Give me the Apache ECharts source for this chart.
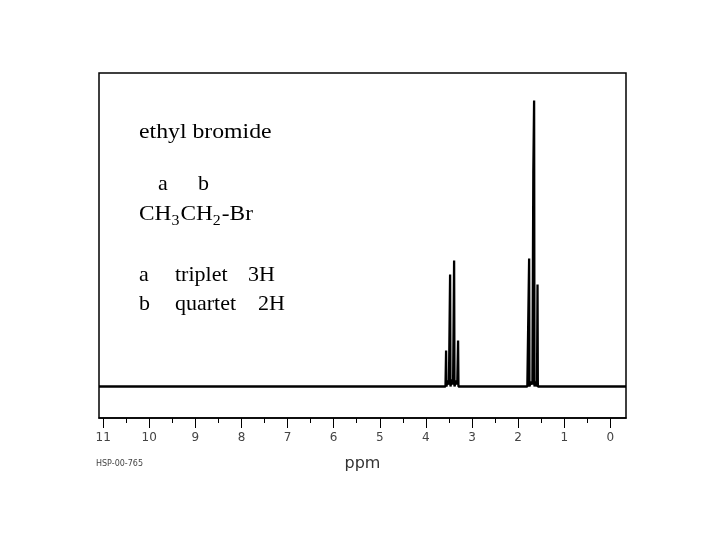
<!DOCTYPE html>
<html>
<head>
<meta charset="utf-8">
<script src="https://cdn.jsdelivr.net/npm/echarts@6/dist/echarts.min.js"></script>
<style>html,body{margin:0;padding:0;background:#fff;}#c{width:720px;height:540px;}</style>
</head>
<body>
<div id="c"></div>
<script>
// Chemical shift (ppm) and intensity of the recorded spectrum trace
const shiftPpm = [11.09, 9.0, 7.0, 5.0, 3.62, 3.575, 3.570, 3.562, 3.554, 3.53, 3.50, 3.483, 3.475, 3.467, 3.45, 3.43, 3.41, 3.396, 3.388, 3.380, 3.36, 3.34, 3.32, 3.310, 3.302, 3.294, 3.27, 3.0, 2.0, 1.80, 1.772, 1.768, 1.761, 1.754, 1.72, 1.69, 1.675, 1.670, 1.653, 1.645, 1.62, 1.59, 1.586, 1.579, 1.572, 1.55, 1.0, 0.0, -0.34];
const intensity = [0, 0, 0, 0, 0, 0, 0, 36, 0, 6, 2, 0, 112, 0, 4, 7, 2, 0, 126, 0, 3, 6, 2, 0, 46, 0, 0, 0, 0, 0, 0, 0, 128, 0, 5, 2, 0, 214, 286, 0, 5, 0, 0, 102, 0, 0, 0, 0, 0];
const majorTicks = [0, 1, 2, 3, 4, 5, 6, 7, 8, 9, 10, 11];
const minorTicks = [0.5, 1.5, 2.5, 3.5, 4.5, 5.5, 6.5, 7.5, 8.5, 9.5, 10.5];
const axisTitle = 'ppm';
const sampleId = 'HSP-00-765';

const chart = echarts.init(document.getElementById('c'), null, {renderer: 'canvas'});
const serif = "'Liberation Serif','Times New Roman',serif";
function txt(x, y, s, size, sx) {
  return {type: 'text', left: x, top: y, scaleX: sx || 1, style: {text: s, font: size + 'px ' + serif, fill: '#000'}};
}
const data = shiftPpm.map((p, i) => [p, intensity[i]]);
chart.setOption({
  animation: false,
  backgroundColor: '#fff',
  grid: {left: 99, right: 94, top: 73, bottom: 122, show: true, borderColor: '#000', borderWidth: 1.5, backgroundColor: 'transparent'},
  xAxis: [{
    type: 'value', inverse: true, min: -0.34, max: 11.09,
    name: axisTitle, nameLocation: 'middle', nameGap: 38,
    nameTextStyle: {fontSize: 16, color: '#333', fontFamily: 'DejaVu Sans'},
    axisLine: {show: true, onZero: false, lineStyle: {color: '#000', width: 1.5}},
    axisTick: {show: true, inside: false, length: 10, customValues: majorTicks, lineStyle: {color: '#000', width: 1}},
    axisLabel: {show: true, customValues: majorTicks, margin: 14, fontSize: 12, color: '#444', fontFamily: 'DejaVu Sans'},
    splitLine: {show: false}
  }, {
    type: 'value', inverse: true, min: -0.34, max: 11.09, position: 'bottom',
    axisLine: {show: false, onZero: false},
    axisTick: {show: true, inside: false, length: 5, customValues: minorTicks, lineStyle: {color: '#000', width: 1}},
    axisLabel: {show: false},
    splitLine: {show: false}
  }],
  yAxis: {type: 'value', min: -31.5, max: 313.5, show: false},
  series: [{
    type: 'line', data: data, showSymbol: false, symbol: 'none',
    lineStyle: {color: '#000', width: 2.3}, clip: true
  }],
  graphic: [
    txt(139, 121, 'ethyl bromide', 22, 1.08),
    txt(158, 173, 'a', 22),
    txt(198, 173, 'b', 22),
    {type: 'text', left: 139, top: 203, scaleX: 1.06, style: {
      text: '{n|CH}{s|3}{n|CH}{s|2}{n|-Br}',
      rich: {
        n: {fontSize: 22, fontFamily: serif, color: '#000', lineHeight: 26, verticalAlign: 'bottom', padding: [0, 0, 4, 0]},
        s: {fontSize: 15, fontFamily: serif, color: '#000', lineHeight: 15, verticalAlign: 'bottom', padding: [0, 1, 0, 0]}
      }
    }},
    txt(139, 264, 'a', 22),
    txt(175, 264, 'triplet', 22),
    txt(248, 264, '3H', 22),
    txt(139, 293, 'b', 22),
    txt(175, 293, 'quartet', 22),
    txt(258, 293, '2H', 22),
    {type: 'text', left: 96, top: 460, style: {text: sampleId, font: '8px DejaVu Sans', fill: '#444'}}
  ]
});
</script>
</body>
</html>
